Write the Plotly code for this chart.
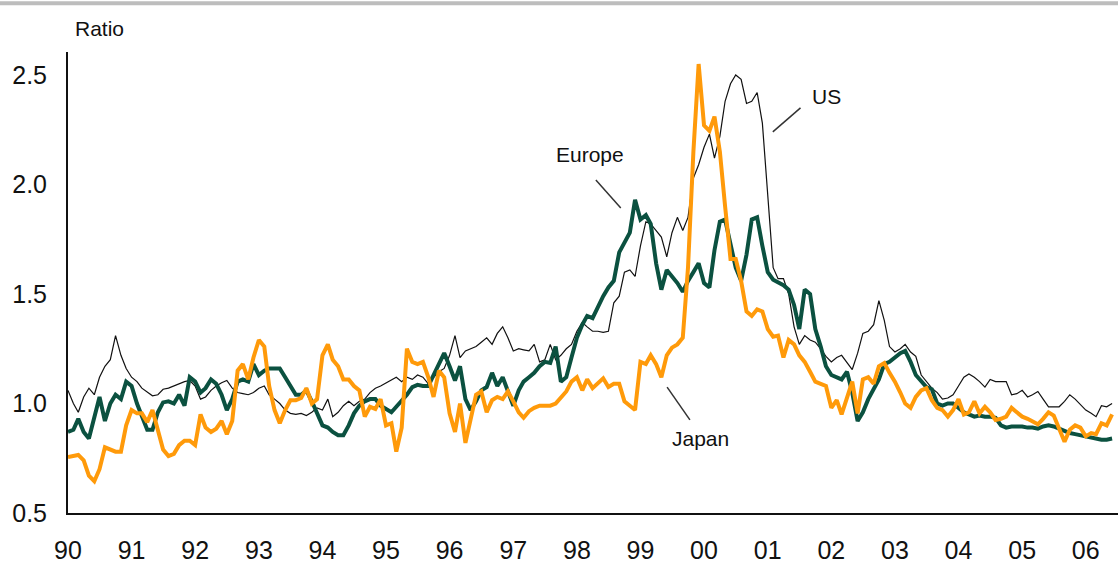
import pandas as pd
import plotly.graph_objects as go

# Monthly observations, Jan 1990 - Jun 2006
dates = pd.date_range("1990-01-01", periods=198, freq="MS")

us = [
    1.06, 1.00, 0.96, 1.03, 1.07, 1.04, 1.12, 1.17, 1.20, 1.31, 1.22, 1.16,
    1.12, 1.10, 1.07, 1.05, 1.035, 1.04, 1.065, 1.07, 1.08, 1.09, 1.10, 1.105,
    1.08, 1.02, 1.03, 1.06, 1.08, 1.095, 1.105, 1.07, 1.05, 1.045, 1.04, 1.05,
    1.07, 1.08, 1.04, 1.02, 1.00, 0.97, 0.955, 0.95, 0.955, 0.945, 0.96, 0.98,
    0.97, 1.02, 0.94, 0.96, 0.99, 1.01, 0.99, 1.01, 1.02, 1.05, 1.07, 1.08,
    1.095, 1.11, 1.12, 1.10, 1.12, 1.11, 1.13, 1.12, 1.09, 1.12, 1.145, 1.16,
    1.22, 1.31, 1.21, 1.24, 1.25, 1.26, 1.28, 1.30, 1.27, 1.32, 1.35, 1.30,
    1.24, 1.25, 1.245, 1.24, 1.27, 1.19, 1.20, 1.27, 1.20, 1.22, 1.25, 1.27,
    1.33, 1.37, 1.35, 1.33, 1.33, 1.325, 1.33, 1.46, 1.49, 1.60, 1.61, 1.58,
    1.72, 1.83, 1.82, 1.79, 1.76, 1.67, 1.78, 1.85, 1.79, 1.85, 2.03, 2.09,
    2.17, 2.23, 2.12, 2.22, 2.38, 2.46, 2.50, 2.48, 2.37, 2.38, 2.42, 2.28,
    1.95, 1.62, 1.57, 1.57, 1.50, 1.35, 1.27, 1.31, 1.29, 1.28, 1.25, 1.215,
    1.19, 1.21, 1.22, 1.185, 1.155, 1.23, 1.32, 1.33, 1.36, 1.47, 1.38, 1.26,
    1.235, 1.25, 1.27, 1.235, 1.215, 1.13, 1.10, 1.07, 1.05, 1.02, 1.025, 1.04,
    1.08, 1.12, 1.135, 1.12, 1.10, 1.075, 1.11, 1.10, 1.10, 1.10, 1.04, 1.045,
    1.06, 1.03, 1.04, 1.055, 1.02, 0.985, 0.985, 0.985, 1.01, 1.04, 1.02, 0.995,
    0.97, 0.955, 0.94, 0.99, 0.985, 1.00,
]

europe = [
    0.87, 0.88, 0.93, 0.87, 0.84, 0.93, 1.03, 0.92, 1.00, 1.04, 1.02, 1.10,
    1.08, 1.00, 0.945, 0.88, 0.88, 0.96, 1.005, 1.01, 1.00, 1.04, 0.99, 1.12,
    1.10, 1.05, 1.07, 1.11, 1.09, 1.04, 0.97, 1.02, 1.10, 1.11, 1.10, 1.18,
    1.13, 1.15, 1.16, 1.16, 1.16, 1.12, 1.08, 1.04, 1.04, 1.06, 1.01, 0.95,
    0.90, 0.89, 0.87, 0.855, 0.855, 0.90, 0.955, 0.99, 1.01, 1.02, 1.02, 0.99,
    0.975, 0.96, 0.985, 1.01, 1.04, 1.075, 1.085, 1.08, 1.08, 1.13, 1.18, 1.23,
    1.17, 1.105, 1.17, 1.02, 0.97, 1.01, 1.06, 1.075, 1.14, 1.08, 1.12, 1.05,
    0.99, 1.06, 1.10, 1.12, 1.14, 1.17, 1.19, 1.185, 1.26, 1.10, 1.12, 1.21,
    1.30, 1.36, 1.40, 1.39, 1.44, 1.49, 1.53, 1.56, 1.69, 1.73, 1.78, 1.93,
    1.84, 1.86, 1.82, 1.64, 1.52, 1.61, 1.58, 1.55, 1.51, 1.56, 1.60, 1.64,
    1.55, 1.53, 1.70, 1.83, 1.84, 1.72, 1.62, 1.56, 1.68, 1.84, 1.85, 1.72,
    1.60, 1.565, 1.555, 1.54, 1.52, 1.45, 1.34, 1.52, 1.50, 1.34, 1.26, 1.17,
    1.13, 1.12, 1.11, 1.145, 1.05, 0.92, 0.96, 1.02, 1.07, 1.11, 1.18, 1.19,
    1.21, 1.23, 1.24, 1.19, 1.13, 1.10, 1.075, 1.065, 1.00, 0.99, 1.00, 1.00,
    0.98, 0.96, 0.95, 0.94, 0.945, 0.94, 0.94, 0.935, 0.90, 0.89, 0.895, 0.895,
    0.895, 0.89, 0.89, 0.885, 0.895, 0.90, 0.895, 0.885, 0.875, 0.865, 0.86, 0.855,
    0.85, 0.845, 0.838, 0.835, 0.835, 0.84,
]

japan = [
    0.755, 0.76, 0.765, 0.74, 0.67, 0.645, 0.70, 0.80, 0.79, 0.78, 0.78, 0.90,
    0.97, 0.955, 0.955, 0.915, 0.97, 0.87, 0.79, 0.76, 0.77, 0.81, 0.83, 0.83,
    0.81, 0.95, 0.89, 0.87, 0.885, 0.92, 0.86, 0.92, 1.15, 1.18, 1.11, 1.21,
    1.29, 1.26, 1.08, 0.97, 0.91, 0.97, 1.015, 1.015, 1.025, 1.07, 1.00, 1.02,
    1.22, 1.27, 1.20, 1.17, 1.11, 1.11, 1.08, 1.06, 0.94, 0.985, 0.975, 1.02,
    0.90, 0.91, 0.78, 0.89, 1.25, 1.19, 1.18, 1.19, 1.12, 1.03, 1.15, 1.12,
    0.955, 0.87, 1.00, 0.82, 0.92, 1.04, 1.055, 0.96, 1.015, 1.03, 1.02, 1.055,
    1.01, 0.96, 0.935, 0.965, 0.98, 0.99, 0.99, 0.99, 1.00, 1.03, 1.055, 1.10,
    1.12, 1.06, 1.11, 1.07, 1.09, 1.115, 1.075, 1.09, 1.09, 1.01, 0.99, 0.97,
    1.19, 1.18, 1.22, 1.18, 1.12, 1.22, 1.255, 1.27, 1.30, 1.62, 2.15, 2.55,
    2.27, 2.245, 2.31, 2.15, 1.90, 1.66, 1.66, 1.56, 1.42, 1.40, 1.43, 1.42,
    1.34, 1.305, 1.31, 1.21, 1.29, 1.27, 1.22, 1.19, 1.145, 1.10, 1.09, 1.08,
    0.98, 1.015, 0.95, 1.03, 1.10, 0.955, 1.11, 1.12, 1.09, 1.17, 1.185, 1.14,
    1.10, 1.05, 1.00, 0.98, 1.03, 1.06, 1.07, 1.015, 0.98, 0.97, 0.94, 0.97,
    1.02, 0.95, 0.96, 1.01, 0.955, 0.985, 0.96, 0.925, 0.93, 0.94, 0.98, 0.96,
    0.94, 0.93, 0.92, 0.905, 0.93, 0.96, 0.945, 0.88, 0.825, 0.88, 0.90, 0.89,
    0.85, 0.865, 0.86, 0.91, 0.90, 0.95,
]

year_ticks = [f"{y}-01-01" for y in range(1990, 2007)]
year_labels = ["90", "91", "92", "93", "94", "95", "96", "97", "98", "99",
               "00", "01", "02", "03", "04", "05", "06"]
y_ticks = [0.5, 1.0, 1.5, 2.0, 2.5]

GREEN = "#0B5140"
ORANGE = "#FF9A0A"
FONT = "Liberation Sans, Arial, sans-serif"

fig = go.Figure()
fig.add_trace(go.Scatter(x=dates, y=us, mode="lines", name="US",
                         line=dict(color="#111111", width=1.2)))
fig.add_trace(go.Scatter(x=dates, y=europe, mode="lines", name="Europe",
                         line=dict(color=GREEN, width=4)))
fig.add_trace(go.Scatter(x=dates, y=japan, mode="lines", name="Japan",
                         line=dict(color=ORANGE, width=4)))

# labels with leader lines
labels = [
    ("Europe", "1998-03-20", 2.135, ("1998-04-20", 2.02), ("1998-09-10", 1.893)),
    ("US", "2001-12-05", 2.40, ("2001-01-30", 2.24), ("2001-07-08", 2.35)),
    ("Japan", "1999-12-10", 0.84, ("1999-06-03", 1.075), ("1999-10-12", 0.925)),
]
for text, lx, ly, p0, p1 in labels:
    fig.add_annotation(x=lx, y=ly, text=text, showarrow=False,
                       font=dict(size=21, color="#111111", family=FONT))
    fig.add_shape(type="line", x0=p0[0], y0=p0[1], x1=p1[0], y1=p1[1],
                  xref="x", yref="y", line=dict(color="#333333", width=1.5))

fig.add_annotation(x=0.005, y=1.052, xref="paper", yref="paper", text="Ratio",
                   showarrow=False, xanchor="left", yanchor="middle",
                   font=dict(size=21, color="#111111", family=FONT))

# grey rule across the top
fig.add_shape(type="line", xref="paper", yref="paper",
              x0=-0.07, x1=1.0, y0=1.106, y1=1.106,
              line=dict(color="#BDBDBD", width=4))

fig.update_layout(
    width=1118, height=565,
    margin=dict(l=68, r=0, t=52, b=52, autoexpand=False),
    paper_bgcolor="white", plot_bgcolor="white",
    showlegend=False,
    font=dict(family=FONT, color="#111111"),
)
fig.update_xaxes(
    range=["1990-01-01", "2006-07-05"],
    tickvals=year_ticks, ticktext=year_labels,
    showgrid=False, zeroline=False, automargin=False,
    showline=True, linecolor="#111111", linewidth=2,
    ticks="", ticklabelstandoff=14,
    tickfont=dict(size=25, family=FONT, color="#111111"),
)
fig.update_yaxes(
    range=[0.5, 2.605],
    tickvals=y_ticks, ticktext=[f"{v:.1f}" for v in y_ticks],
    showgrid=False, zeroline=False, automargin=False,
    showline=True, linecolor="#111111", linewidth=2,
    ticks="", ticklabelstandoff=14,
    tickfont=dict(size=25, family=FONT, color="#111111"),
)

fig.write_html("out.html", config={"displayModeBar": False},
               post_script="document.body.style.margin='0';")
